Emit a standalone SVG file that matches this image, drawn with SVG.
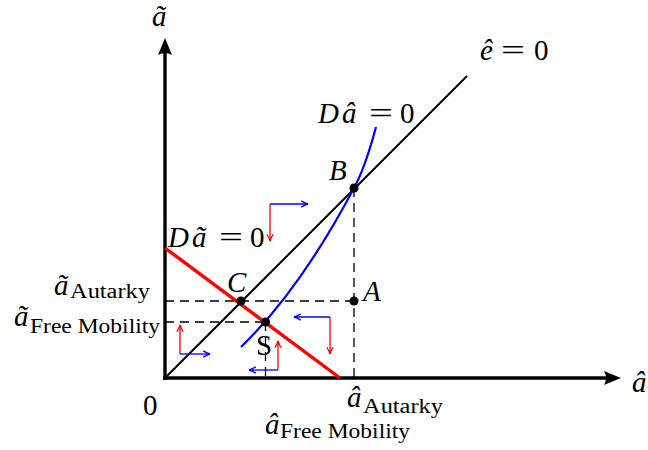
<svg xmlns="http://www.w3.org/2000/svg" width="648" height="450" viewBox="0 0 648 450">
<defs>
<style>
text{font-family:"Liberation Serif","Times New Roman",serif;fill:#000}
.m{font-size:29px}
.i{font-style:italic}
.sub{font-size:20px}
.axis{stroke:#000;stroke-width:3.4;fill:none}
.dash{stroke:#000;stroke-width:1.3;stroke-dasharray:9,6;fill:none}
.fr{stroke:#ff0000;stroke-width:1.3;fill:none;marker-end:url(#ar)}
.fb{stroke:#0000ff;stroke-width:1.3;fill:none;marker-end:url(#ab)}
.dot{fill:#000}
</style>
<marker id="ar" viewBox="0 0 10 10" refX="9" refY="5" markerWidth="9" markerHeight="9" markerUnits="userSpaceOnUse" orient="auto"><path d="M1.5,1.5 Q6,4.3 9,5 Q6,5.7 1.5,8.5" fill="none" stroke="#ff0000" stroke-width="1.5"/></marker>
<marker id="ab" viewBox="0 0 10 10" refX="9" refY="5" markerWidth="9" markerHeight="9" markerUnits="userSpaceOnUse" orient="auto"><path d="M1.5,1.5 Q6,4.3 9,5 Q6,5.7 1.5,8.5" fill="none" stroke="#0000ff" stroke-width="1.5"/></marker>
</defs>
<g id="connectors">
<g id="axes">
<line class="axis" x1="165" y1="380" x2="165" y2="50"/>
<path d="M165,38 L172,55 Q165,51 158,55 Z" fill="#000"/>
<line class="axis" x1="163" y1="378" x2="608" y2="378"/>
<path d="M621,378 L604,385 Q608,378 604,371 Z" fill="#000"/>
</g>
<g id="dashed">
<line class="dash" x1="165" y1="301" x2="354" y2="301"/>
<line class="dash" x1="354" y1="188" x2="354" y2="378"/>
<line class="dash" x1="165" y1="322" x2="265" y2="322"/>
<line class="dash" x1="265.5" y1="322" x2="265.5" y2="378"/>
</g>
<line id="ehat" x1="165" y1="378" x2="467" y2="76" stroke="#000" stroke-width="2"/>
<path id="Dahat" d="M241,347 Q300,290 354,188 Q365,168 376,127" fill="none" stroke="#0000ff" stroke-width="2.2"/>
<line id="Datilde" x1="165" y1="248" x2="340" y2="378" stroke="#ff0000" stroke-width="3.4"/>
<g id="field">
<path class="fb" d="M270,204 H308"/>
<path class="fr" d="M270,204 V241"/>
<path class="fr" d="M180,354 V325"/>
<path class="fb" d="M180,354 H210"/>
<path class="fb" d="M330,317 H294"/>
<path class="fr" d="M330,317 V354"/>
<path class="fr" d="M278,370 V341"/>
<path class="fb" d="M278,370 H249"/>
</g>
</g>
<g id="node-B"><circle class="dot" cx="354" cy="188" r="4.5"/><text class="m i" x="329" y="180">B</text></g>
<g id="node-A"><circle class="dot" cx="354" cy="301" r="4.5"/><text class="m i" x="363" y="301">A</text></g>
<g id="node-C"><circle class="dot" cx="241" cy="301" r="4.5"/><text class="m i" x="227" y="292">C</text></g>
<g id="node-S"><circle class="dot" cx="265.5" cy="322" r="4.5"/><text class="m" x="256" y="355">S</text></g>
<g id="labels">
<text class="m i" x="152" y="26">ã</text>
<text class="m i" x="632" y="392">â</text>
<text class="m" x="143" y="415">0</text>
<text class="m" x="480" y="60"><tspan class="i">ê</tspan><tspan x="501" textLength="24" lengthAdjust="spacingAndGlyphs">=</tspan><tspan x="534">0</tspan></text>
<text class="m" x="318" y="123"><tspan class="i">D</tspan><tspan class="i" x="342">â</tspan><tspan x="369" textLength="24" lengthAdjust="spacingAndGlyphs">=</tspan><tspan x="400">0</tspan></text>
<text class="m" x="168" y="247"><tspan class="i">D</tspan><tspan class="i" x="192">ã</tspan><tspan x="219" textLength="24" lengthAdjust="spacingAndGlyphs">=</tspan><tspan x="250">0</tspan></text>
<text class="m i" x="54" y="295">ã</text>
<text class="sub" x="70" y="298" textLength="80" lengthAdjust="spacingAndGlyphs">Autarky</text>
<text class="m i" x="14" y="326">ã</text>
<text class="sub" x="30" y="333" textLength="130" lengthAdjust="spacingAndGlyphs">Free Mobility</text>
<text class="m i" x="347" y="407">â</text>
<text class="sub" x="363" y="413" textLength="80" lengthAdjust="spacingAndGlyphs">Autarky</text>
<text class="m i" x="265" y="434">â</text>
<text class="sub" x="280" y="438" textLength="130" lengthAdjust="spacingAndGlyphs">Free Mobility</text>
</g>
</svg>
